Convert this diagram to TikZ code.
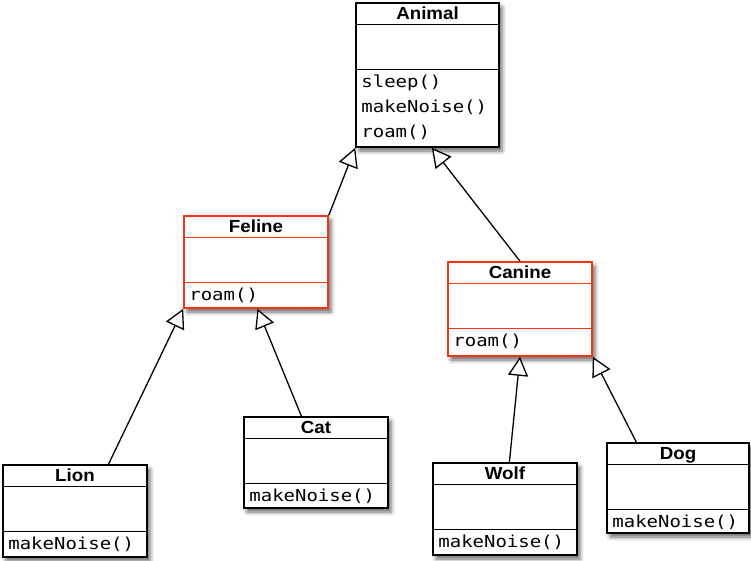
\documentclass[tikz,border=0pt]{standalone}
\usepackage{fontspec}
\setmainfont{Liberation Sans}
\newfontfamily\titlefam[FakeStretch=1.07]{Liberation Sans}
\newfontfamily\monofam[FakeStretch=1.15]{DejaVu Sans Mono}
\usetikzlibrary{arrows.meta,calc,fit,shadows.blur}
\definecolor{umlred}{RGB}{250,50,20}
\tikzset{
  classbox/.style={draw=#1, fill=white, line width=1.6pt, inner sep=0pt,
    blur shadow={shadow xshift=3pt, shadow yshift=-4pt, shadow blur radius=4pt, shadow opacity=60}},
  sepline/.style={draw=#1, line width=1.5pt},
  titletext/.style={font=\titlefam\bfseries\fontsize{17.5}{20}\selectfont, inner sep=0pt, anchor=base},
  methodtext/.style={font=\monofam\fontsize{16.5}{20}\selectfont, inner sep=0pt, anchor=base west},
  inherit/.style={line width=1.3pt, -{Triangle[length=19pt, width=20pt, fill=white]}},
}
\newcommand{\umlclass}[8]{%
  \node[classbox=#2, fit={(#3pt,-#5pt)(#4pt,-#6pt)}] (#1) {};
  \draw[sepline=#2] ($(#1.north west)+(0,-22.5pt)$) -- ($(#1.north east)+(0,-22.5pt)$);
  \draw[sepline=#2] ($(#1.north west)+(0,-67.5pt)$) -- ($(#1.north east)+(0,-67.5pt)$);
  \node[titletext] (#1-title) at ($(#1.north)+(0,-17pt)$) {#7};
  \foreach \m [count=\i] in {#8} {
    \node[methodtext] (#1-m\i) at ($(#1.north west)+(6pt,{-85pt-(\i-1)*25pt})$) {\m};
  }
}
\begin{document}
\begin{tikzpicture}
\useasboundingbox (0,0) rectangle (751pt,-560pt);
\umlclass{animal}{black}{356}{499}{3}{147}{Animal}{sleep(),makeNoise(),roam()}
\umlclass{feline}{umlred}{184}{328}{216}{308}{Feline}{roam()}
\umlclass{canine}{umlred}{448}{592}{262}{356}{Canine}{roam()}
\umlclass{lion}{black}{3}{147}{465}{557}{Lion}{makeNoise()}
\umlclass{cat}{black}{244}{388}{417}{508}{Cat}{makeNoise()}
\umlclass{wolf}{black}{433}{577}{463}{555}{Wolf}{makeNoise()}
\umlclass{dog}{black}{607}{749}{443}{533}{Dog}{makeNoise()}

\draw[inherit] (feline.north east) -- (animal.south west);
\draw[inherit] (canine.north) -- ($(animal.south west)!0.53!(animal.south east)$);
\draw[inherit] ($(lion.north west)!0.73!(lion.north east)$) -- (feline.south west);
\draw[inherit] ($(cat.north west)!0.4!(cat.north east)$) -- ($(feline.south west)!0.51!(feline.south east)$);
\draw[inherit] ($(wolf.north west)!0.53!(wolf.north east)$) -- (canine.south);
\draw[inherit] ($(dog.north west)!0.21!(dog.north east)$) -- (canine.south east);
\end{tikzpicture}
\end{document}
